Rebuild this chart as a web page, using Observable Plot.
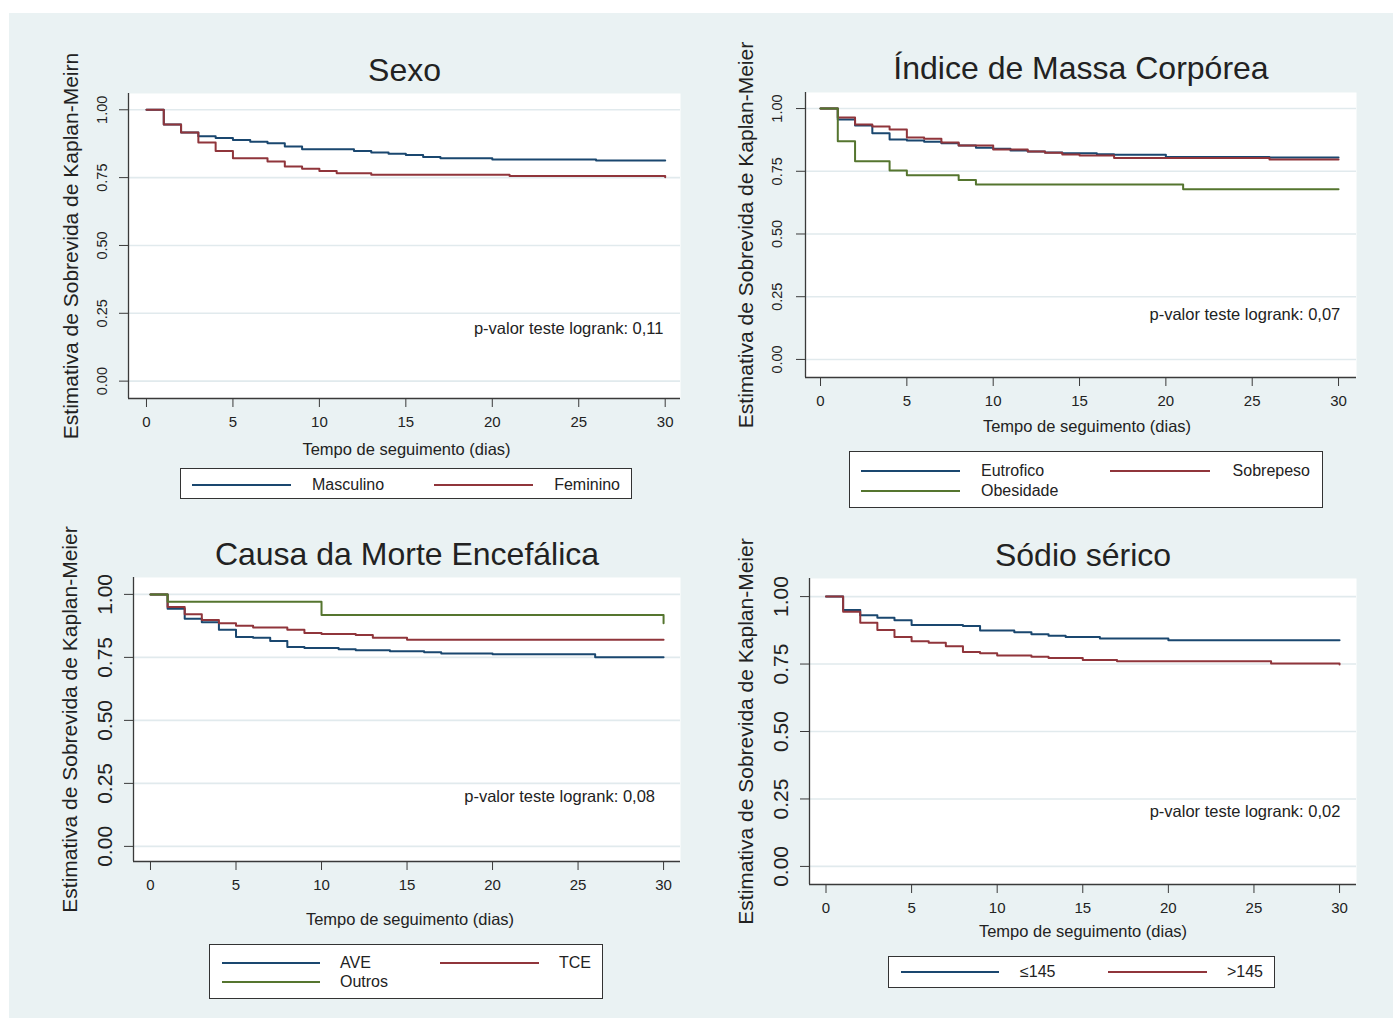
<!DOCTYPE html>
<html><head><meta charset="utf-8">
<script src="https://cdn.jsdelivr.net/npm/d3@7"></script>
<script src="https://cdn.jsdelivr.net/npm/@observablehq/plot@0.6"></script>
<style>
body{margin:0;background:#fff;}
#page{position:relative;width:1396px;height:1021px;overflow:hidden;font-family:"Liberation Sans",Arial,sans-serif;color:#222;}
#bg{position:absolute;left:9px;top:13px;width:1384px;height:1005px;background:#eaf2f3;}
.panel{position:absolute;}
.legend{position:absolute;background:#fff;border:1px solid #333;box-sizing:border-box;}
.legend .sw{position:absolute;height:0;border-top:2px solid;}
.legend .lb{position:absolute;font-size:16px;line-height:16px;white-space:nowrap;transform:translateY(-50%);}
</style></head><body><div id="page"><div id="bg"></div></div>
<script>
// ---------- data ----------
const xTicks = [0, 5, 10, 15, 20, 25, 30];
const yTicks = [0, 0.25, 0.5, 0.75, 1];

const titles = ["Sexo", "Índice de Massa Corpórea", "Causa da Morte Encefálica", "Sódio sérico"];
const xTitle = "Tempo de seguimento (dias)";
const yTitles = ["Estimativa de Sobrevida de Kaplan-Meirn", "Estimativa de Sobrevida de Kaplan-Meier",
                 "Estimativa de Sobrevida de Kaplan-Meier", "Estimativa de Sobrevida de Kaplan-Meier"];
const pValues = ["p-valor teste logrank: 0,11", "p-valor teste logrank: 0,07",
                 "p-valor teste logrank: 0,08", "p-valor teste logrank: 0,02"];

const sexoLabels = ["Masculino", "Feminino"];
const imcLabels = ["Eutrofico", "Sobrepeso", "Obesidade"];
const causaLabels = ["AVE", "TCE", "Outros"];
const sodioLabels = ["≤145", ">145"];

// Sexo
const sexoMascT = [0, 1, 2, 3, 4, 5, 6, 7, 8, 9, 12, 13, 14, 15, 16, 17, 20, 26, 30];
const sexoMascS = [1, 0.946, 0.916, 0.902, 0.896, 0.889, 0.882, 0.877, 0.865, 0.855, 0.848, 0.843, 0.838, 0.833, 0.826, 0.821, 0.817, 0.813, 0.813];
const sexoFemT = [0, 1, 2, 3, 4, 5, 7, 8, 9, 10, 11, 13, 21, 30];
const sexoFemS = [1, 0.946, 0.916, 0.879, 0.848, 0.821, 0.809, 0.791, 0.783, 0.774, 0.766, 0.761, 0.756, 0.751];

// IMC
const imcEutT = [0, 1, 2, 3, 4, 5, 6, 7, 8, 9, 10, 11, 12, 13, 14, 16, 17, 20, 26, 30];
const imcEutS = [1, 0.956, 0.932, 0.902, 0.877, 0.873, 0.868, 0.862, 0.853, 0.844, 0.840, 0.833, 0.829, 0.825, 0.822, 0.818, 0.816, 0.807, 0.805, 0.805];
const imcSobT = [0, 1, 2, 3, 4, 5, 6, 7, 8, 10, 12, 13, 14, 15, 17, 26, 30];
const imcSobS = [1, 0.964, 0.936, 0.928, 0.917, 0.885, 0.880, 0.865, 0.853, 0.837, 0.829, 0.824, 0.817, 0.813, 0.803, 0.797, 0.797];
const imcObeT = [0, 1, 2, 4, 5, 8, 9, 21, 30];
const imcObeS = [1, 0.870, 0.790, 0.753, 0.734, 0.715, 0.697, 0.678, 0.678];

// Causa
const causaAveT = [0, 1, 2, 3, 4, 5, 6, 7, 8, 9, 11, 12, 14, 16, 17, 20, 26, 30];
const causaAveS = [1, 0.943, 0.903, 0.889, 0.860, 0.831, 0.828, 0.815, 0.791, 0.787, 0.782, 0.778, 0.774, 0.770, 0.765, 0.762, 0.751, 0.751];
const causaTceT = [0, 1, 2, 3, 4, 5, 6, 8, 9, 10, 12, 13, 15, 30];
const causaTceS = [1, 0.950, 0.921, 0.898, 0.885, 0.876, 0.869, 0.860, 0.847, 0.843, 0.839, 0.828, 0.820, 0.820];
const causaOutT = [0, 1, 10, 30];
const causaOutS = [1, 0.971, 0.918, 0.885];

// Sodio
const sodioLoT = [0, 1, 2, 3, 4, 5, 8, 9, 11, 12, 13, 14, 16, 20, 30];
const sodioLoS = [1, 0.950, 0.931, 0.922, 0.912, 0.895, 0.891, 0.874, 0.868, 0.860, 0.855, 0.850, 0.845, 0.838, 0.838];
const sodioHiT = [0, 1, 2, 3, 4, 5, 6, 7, 8, 9, 10, 12, 13, 15, 17, 26, 30];
const sodioHiS = [1, 0.944, 0.903, 0.876, 0.850, 0.834, 0.829, 0.816, 0.795, 0.790, 0.782, 0.777, 0.772, 0.765, 0.760, 0.752, 0.748];

// ---------- styles ----------
const BLUE = "#1a476f", RED = "#90353b", GREEN = "#55752f";
const GRID = "#e1eaed", AXIS = "#3a3a3a", FONT = "'Liberation Sans', Arial, sans-serif";

const rows = (T, S) => T.map((t, i) => ({t, s: S[i]}));
const page = document.getElementById("page");

function panel(c) {
  const W = c.svg[2] - c.svg[0], H = c.svg[3] - c.svg[1];
  const marks = [
    Plot.frame({fill: "white", stroke: "none"}),
    Plot.gridY(yTicks, {stroke: GRID, strokeOpacity: 1, strokeWidth: 1.6}),
    ...c.series.map(d => Plot.line(rows(d.T, d.S), {x: "t", y: "s", stroke: d.color, strokeWidth: 2, curve: "step-after"})),
    Plot.ruleX([c.xd[0]], {stroke: AXIS, strokeWidth: 1.3}),
    Plot.ruleY([c.yd[0]], {stroke: AXIS, strokeWidth: 1.3}),
    Plot.axisY(yTicks, {anchor: "left", tickFormat: d3.format(".2f"), tickRotate: -90, tickSize: 9,
      tickPadding: c.yPad, fontSize: c.yFont, label: null, stroke: AXIS}),
    Plot.axisX(xTicks, {anchor: "bottom", tickSize: 9, tickPadding: 9, fontSize: 15, label: null, stroke: AXIS}),
    Plot.text([c.title], {frameAnchor: "top", dy: c.titleDy, fontSize: 32, lineAnchor: "middle", textAnchor: "middle", text: d => d}),
    Plot.text([xTitle], {frameAnchor: "bottom", dy: c.xTitleDy, dx: c.xTitleDx, fontSize: 16.5, lineAnchor: "middle", textAnchor: "middle", text: d => d}),
    Plot.text([c.yTitle], {frameAnchor: "left", dx: c.yTitleDx, rotate: -90, fontSize: 21, lineAnchor: "middle", textAnchor: "middle", text: d => d}),
    Plot.text([c.pval], {x: c.pPos[0], y: c.pPos[1], textAnchor: "end", fontSize: 16.5, text: d => d})
  ];
  const svg = Plot.plot({
    width: W, height: H,
    marginLeft: c.frame[0] - c.svg[0], marginTop: c.frame[1] - c.svg[1],
    marginRight: c.svg[2] - c.frame[2], marginBottom: c.svg[3] - c.frame[3],
    x: {domain: c.xd}, y: {domain: c.yd},
    style: {background: "transparent", fontFamily: FONT, color: "#222", overflow: "visible"},
    marks
  });
  svg.classList.add("panel");
  svg.style.left = c.svg[0] + "px";
  svg.style.top = c.svg[1] + "px";
  page.appendChild(svg);
}

function legend(box, items) {
  const div = document.createElement("div");
  div.className = "legend";
  div.style.left = box[0] + "px"; div.style.top = box[1] + "px";
  div.style.width = (box[2] - box[0]) + "px"; div.style.height = (box[3] - box[1]) + "px";
  for (const it of items) {
    const sw = document.createElement("div");
    sw.className = "sw";
    sw.style.borderTopColor = it.color;
    sw.style.left = (it.line[0] - box[0]) + "px";
    sw.style.width = (it.line[1] - it.line[0]) + "px";
    sw.style.top = (it.y - box[1] - 1) + "px";
    div.appendChild(sw);
    const lb = document.createElement("div");
    lb.className = "lb";
    lb.textContent = it.label;
    lb.style.top = (it.y - box[1]) + "px";
    if (it.right != null) lb.style.right = (box[2] - it.right) + "px";
    else lb.style.left = (it.left - box[0]) + "px";
    div.appendChild(lb);
  }
  page.appendChild(div);
}

panel({svg: [20, 20, 695, 466], frame: [128, 93, 680, 398], xd: [-1.04, 30.885], yd: [-0.064, 1.06],
  yFont: 14.5, yPad: 13, title: titles[0], yTitle: yTitles[0], pval: pValues[0], pPos: [29.9, 0.194],
  titleDy: -23, xTitleDy: 51, xTitleDx: 2, yTitleDx: -57,
  series: [{T: sexoMascT, S: sexoMascS, color: BLUE}, {T: sexoFemT, S: sexoFemS, color: RED}]});

panel({svg: [700, 20, 1390, 446], frame: [805, 92, 1356, 377], xd: [-0.87, 31.04], yd: [-0.072, 1.064],
  yFont: 14.5, yPad: 15, title: titles[1], yTitle: yTitles[1], pval: pValues[1], pPos: [30.1, 0.179],
  titleDy: -24, xTitleDy: 49, xTitleDx: 6, yTitleDx: -59,
  series: [{T: imcEutT, S: imcEutS, color: BLUE}, {T: imcSobT, S: imcSobS, color: RED}, {T: imcObeT, S: imcObeS, color: GREEN}]});

panel({svg: [20, 520, 695, 940], frame: [133, 577, 680, 861], xd: [-0.994, 30.99], yd: [-0.06, 1.067],
  yFont: 21, yPad: 13, title: titles[2], yTitle: yTitles[2], pval: pValues[2], pPos: [29.5, 0.198],
  titleDy: -23, xTitleDy: 58, xTitleDx: 3, yTitleDx: -63,
  series: [{T: causaAveT, S: causaAveS, color: BLUE}, {T: causaTceT, S: causaTceS, color: RED}, {T: causaOutT, S: causaOutS, color: GREEN}]});

panel({svg: [700, 520, 1390, 950], frame: [809, 578, 1356, 884], xd: [-0.964, 30.99], yd: [-0.067, 1.067],
  yFont: 21, yPad: 13, title: titles[3], yTitle: yTitles[3], pval: pValues[3], pPos: [30.05, 0.204],
  titleDy: -23, xTitleDy: 47, xTitleDx: 0, yTitleDx: -63,
  series: [{T: sodioLoT, S: sodioLoS, color: BLUE}, {T: sodioHiT, S: sodioHiS, color: RED}]});

legend([180, 468, 632, 499], [
  {label: sexoLabels[0], color: BLUE, line: [191, 290], y: 484, left: 311},
  {label: sexoLabels[1], color: RED, line: [433, 532], y: 484, right: 621}]);
legend([849, 451, 1323, 508], [
  {label: imcLabels[0], color: BLUE, line: [860, 959], y: 470, left: 980},
  {label: imcLabels[1], color: RED, line: [1109, 1209], y: 470, right: 1311},
  {label: imcLabels[2], color: GREEN, line: [860, 959], y: 490, left: 980}]);
legend([209, 944, 603, 999], [
  {label: causaLabels[0], color: BLUE, line: [221, 319], y: 962, left: 339},
  {label: causaLabels[1], color: RED, line: [439, 538], y: 962, right: 592},
  {label: causaLabels[2], color: GREEN, line: [221, 319], y: 981, left: 339}]);
legend([888, 956, 1275, 988], [
  {label: sodioLabels[0], color: BLUE, line: [900, 998], y: 971, left: 1019},
  {label: sodioLabels[1], color: RED, line: [1107, 1206], y: 971, right: 1264}]);
</script></body></html>
